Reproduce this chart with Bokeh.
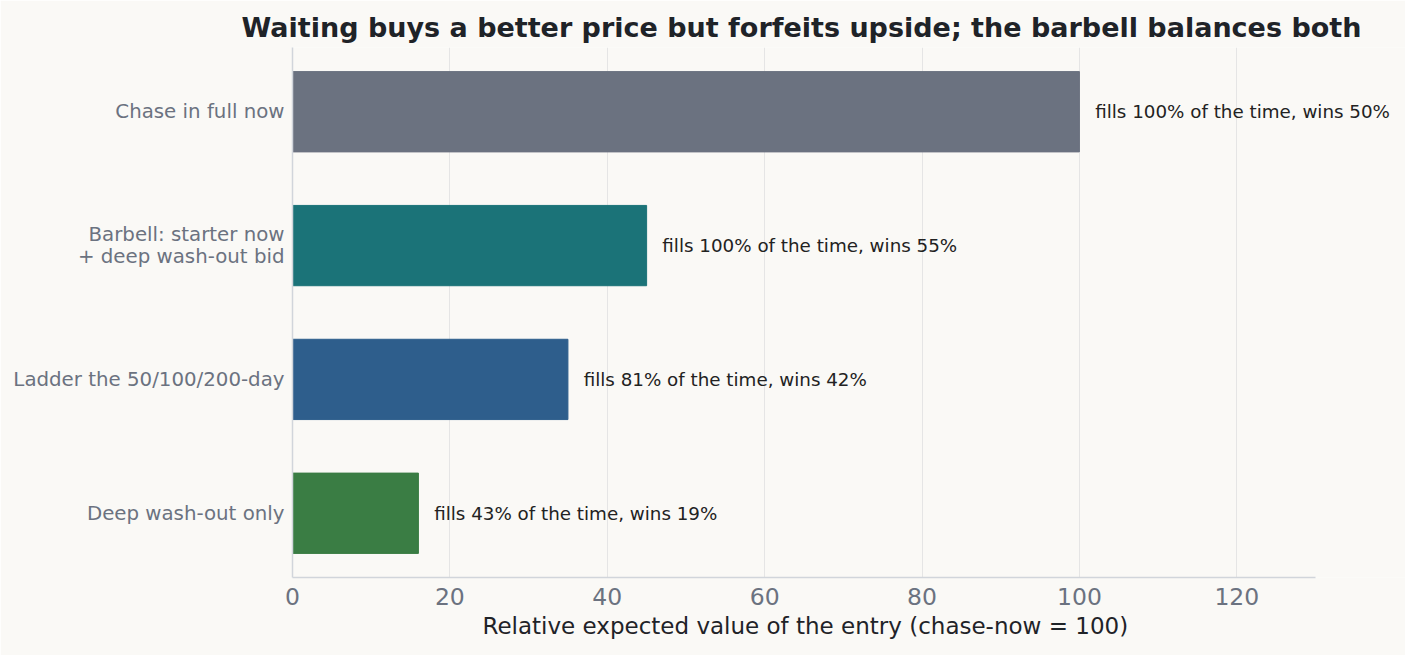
from bokeh.plotting import figure
from bokeh.models import Range1d, FixedTicker, ColumnDataSource, LabelSet, Title
from bokeh.core.properties import value
from bokeh.embed import file_html
from bokeh.resources import INLINE

# data
strategies = ["Chase in full now", "Barbell: starter now\n+ deep wash-out bid",
              "Ladder the 50/100/200-day", "Deep wash-out only"]
rel_value = [100, 45, 35, 16]
fill_pct = [100, 100, 81, 43]
win_pct = [50, 55, 42, 19]
bar_colors = ["#6b7280", "#1b7378", "#2e5e8c", "#3a7d44"]
x_ticks = [0, 20, 40, 60, 80, 100, 120]
x_max = 130

FONT = "DejaVu Sans"
BG = "#faf9f6"

pos = list(range(len(strategies)))
labels = ["fills %d%% of the time, wins %d%%" % (f, w) for f, w in zip(fill_pct, win_pct)]

src = ColumnDataSource(dict(y=pos, v=rel_value, c=bar_colors,
                            tx=[v + 2 for v in rel_value], t=labels))

# frame runs to the right edge so the labels are not clipped; axis drawn to x_max only
W, H, LEFT, AXIS_RIGHT = 1405, 655, 292, 1315
x_end = x_max * (W - LEFT) / (AXIS_RIGHT - LEFT)

p = figure(width=W, height=H, output_backend="svg", toolbar_location=None,
           x_range=Range1d(0, x_end), y_range=Range1d(3.48, -0.48),
           title="Waiting buys a better price but forfeits upside; the barbell balances both",
           min_border_left=LEFT, min_border_right=0, min_border_top=47, min_border_bottom=78)

p.background_fill_color = BG
p.border_fill_color = BG
p.outline_line_color = None

p.title.align = "left"
p.title.offset = 241 - LEFT
p.title.text_font = FONT
p.title.text_font_size = "27px"
p.title.text_font_style = "bold"
p.title.text_color = "#1f2328"

p.hbar(y="y", right="v", left=0, height=0.6, color="c", source=src)
p.add_layout(LabelSet(x="tx", y="y", text="t", source=src, text_baseline="middle",
                      text_font_size="18.3px", text_color="#222222", text_font=value(FONT)))

p.xaxis.ticker = FixedTicker(ticks=x_ticks)
p.xaxis.bounds = (0, x_max)
p.xaxis.major_label_text_font = FONT
p.xaxis.major_label_text_font_size = "23.5px"
p.xaxis.major_label_text_color = "#6b7280"
p.xaxis.major_label_standoff = 10
p.xaxis.major_tick_out = 0
p.xaxis.major_tick_in = 0
p.xaxis.major_tick_line_color = None
p.xaxis.minor_tick_line_color = None
p.xaxis.axis_line_color = "#d1d5db"
p.xaxis.axis_line_width = 1.5

# x-axis label centred under the drawn axis (0..x_max), not the wider frame
p.add_layout(Title(text="Relative expected value of the entry (chase-now = 100)",
                   align="left", offset=482 - LEFT, standoff=6,
                   text_font=FONT, text_font_size="23px", text_font_style="normal",
                   text_color="#1f2328"), "below")

p.yaxis.ticker = FixedTicker(ticks=pos)
p.yaxis.major_label_overrides = {i: s for i, s in zip(pos, strategies)}
p.yaxis.major_label_text_font = FONT
p.yaxis.major_label_text_font_size = "19.8px"
p.yaxis.major_label_text_color = "#6b7280"
p.yaxis.major_label_text_line_height = 0.95
p.yaxis.major_label_standoff = 8
p.yaxis.major_tick_out = 0
p.yaxis.major_tick_in = 0
p.yaxis.major_tick_line_color = None
p.yaxis.minor_tick_line_color = None
p.yaxis.axis_line_color = "#d1d5db"
p.yaxis.axis_line_width = 1.5

p.ygrid.grid_line_color = None
p.xgrid.grid_line_color = "#e5e5e5"

open("out.html", "w").write(file_html(p, INLINE))
